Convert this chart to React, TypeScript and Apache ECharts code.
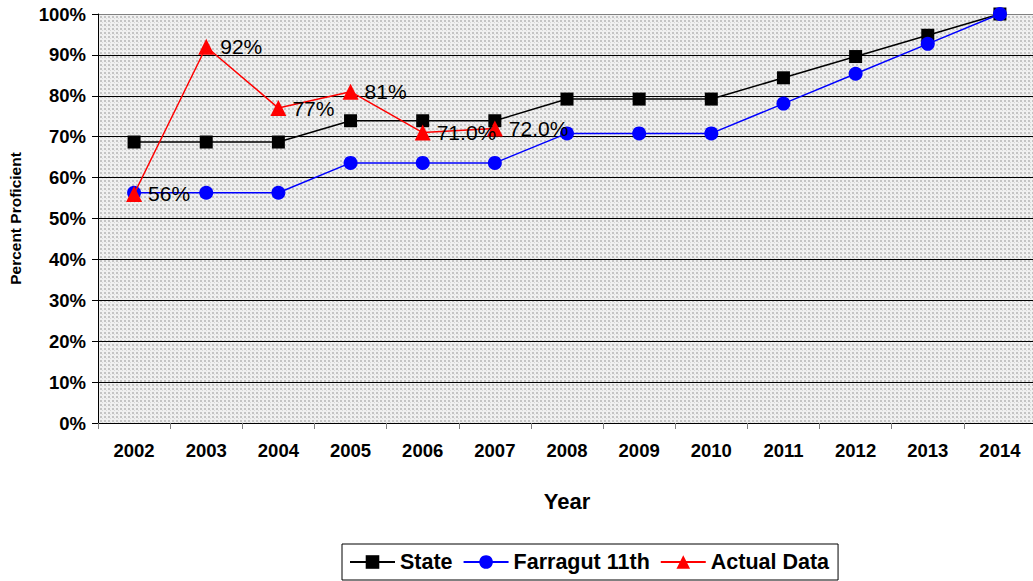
import React, { useEffect, useRef } from "react";
import * as echarts from "echarts";

const years = ["2002","2003","2004","2005","2006","2007","2008","2009","2010","2011","2012","2013","2014"];
const stateValues = [68.7, 68.7, 68.7, 73.9, 73.9, 73.9, 79.2, 79.2, 79.2, 84.4, 89.6, 94.8, 100];
const farragutValues = [56.3, 56.3, 56.3, 63.6, 63.6, 63.6, 70.8, 70.8, 70.8, 78.1, 85.4, 92.7, 100];
const actualValues = [56, 92, 77, 81, 71, 72, null, null, null, null, null, null, null];
const actualLabels = ["56%", "92%", "77%", "81%", "71.0%", "72.0%"];

function makePattern(): string {
  const c = document.createElement("canvas");
  c.width = 4;
  c.height = 4;
  const ctx = c.getContext("2d")!;
  ctx.fillStyle = "#f0f0f0";
  ctx.fillRect(0, 0, 4, 4);
  ctx.fillStyle = "#c4c4c4";
  ctx.fillRect(0, 0, 2, 2);
  ctx.fillStyle = "#d8d8d8";
  ctx.fillRect(2, 2, 1, 1);
  return c.toDataURL();
}

const gridLineColors = ["#000", "#000", "#000", "#000", "#000", "#000", "#000", "#000", "#000", "#000", "#808080"];

export default function App() {
  const ref = useRef<HTMLDivElement>(null);
  useEffect(() => {
    const chart = echarts.init(ref.current!, null, { renderer: "svg" });
    const font = "Arial, 'Liberation Sans', sans-serif";
    chart.setOption({
      animation: false,
      textStyle: { fontFamily: font },
      grid: {
        left: 98,
        top: 14,
        width: 938,
        bottom: 158,
        show: true,
        containLabel: false,
        outerBoundsMode: "none",
        backgroundColor: { image: makePattern(), repeat: "repeat" } as any,
        borderWidth: 0,
      },
      legend: {
        bottom: 1,
        left: 342,
        itemWidth: 45,
        itemHeight: 17,
        itemGap: 10,
        borderColor: "#000",
        borderWidth: 1,
        padding: [7, 9, 7, 7],
        textStyle: { fontSize: 21.5, fontWeight: "bold", color: "#000", fontFamily: font },
        data: ["State", "Farragut 11th", "Actual Data"],
      },
      xAxis: {
        type: "category",
        data: years,
        name: "Year",
        nameLocation: "middle",
        nameGap: 67,
        nameTextStyle: { fontSize: 22, fontWeight: "bold", color: "#000", fontFamily: font },
        boundaryGap: true,
        axisLine: { lineStyle: { color: "#000", width: 1 } },
        axisTick: { show: true, length: 6, lineStyle: { color: "#808080" } },
        axisLabel: { fontSize: 18.5, fontWeight: "bold", color: "#000", margin: 18, fontFamily: font },
      },
      yAxis: {
        type: "value",
        min: 0,
        max: 100,
        interval: 10,
        name: "Percent Proficient",
        nameLocation: "middle",
        nameGap: 75,
        nameRotate: 90,
        nameTextStyle: { fontSize: 15.5, fontWeight: "bold", color: "#000", fontFamily: font },
        axisLine: { show: true, lineStyle: { color: "#000", width: 1 } },
        axisTick: { show: true, length: 6, lineStyle: { color: "#000" } },
        axisLabel: { formatter: "{value}%", fontSize: 18.5, fontWeight: "bold", color: "#000", margin: 12, fontFamily: font },
        splitLine: { show: true, lineStyle: { color: gridLineColors, width: 1 } },
      },
      series: [
        {
          name: "State",
          type: "line",
          data: stateValues,
          symbol: "rect",
          symbolSize: 13,
          itemStyle: { color: "#000" },
          lineStyle: { color: "#000", width: 1.5 },
          z: 3,
        },
        {
          name: "Farragut 11th",
          type: "line",
          data: farragutValues,
          symbol: "circle",
          symbolSize: 14,
          itemStyle: { color: "#0000ff" },
          lineStyle: { color: "#0000ff", width: 1.5 },
          z: 4,
        },
        {
          name: "Actual Data",
          type: "line",
          data: actualValues,
          symbol: "triangle",
          symbolSize: 16,
          itemStyle: { color: "#ff0000" },
          lineStyle: { color: "#ff0000", width: 1.5 },
          z: 5,
          label: {
            show: true,
            position: "right",
            distance: 6,
            fontSize: 21,
            color: "#000",
            fontFamily: font,
            formatter: (p: any) => actualLabels[p.dataIndex] ?? "",
          },
        },
      ],
    });
    return () => chart.dispose();
  }, []);
  return <div ref={ref} style={{ width: 1033, height: 581, position: "absolute", left: 0, top: 0 }} />;
}
